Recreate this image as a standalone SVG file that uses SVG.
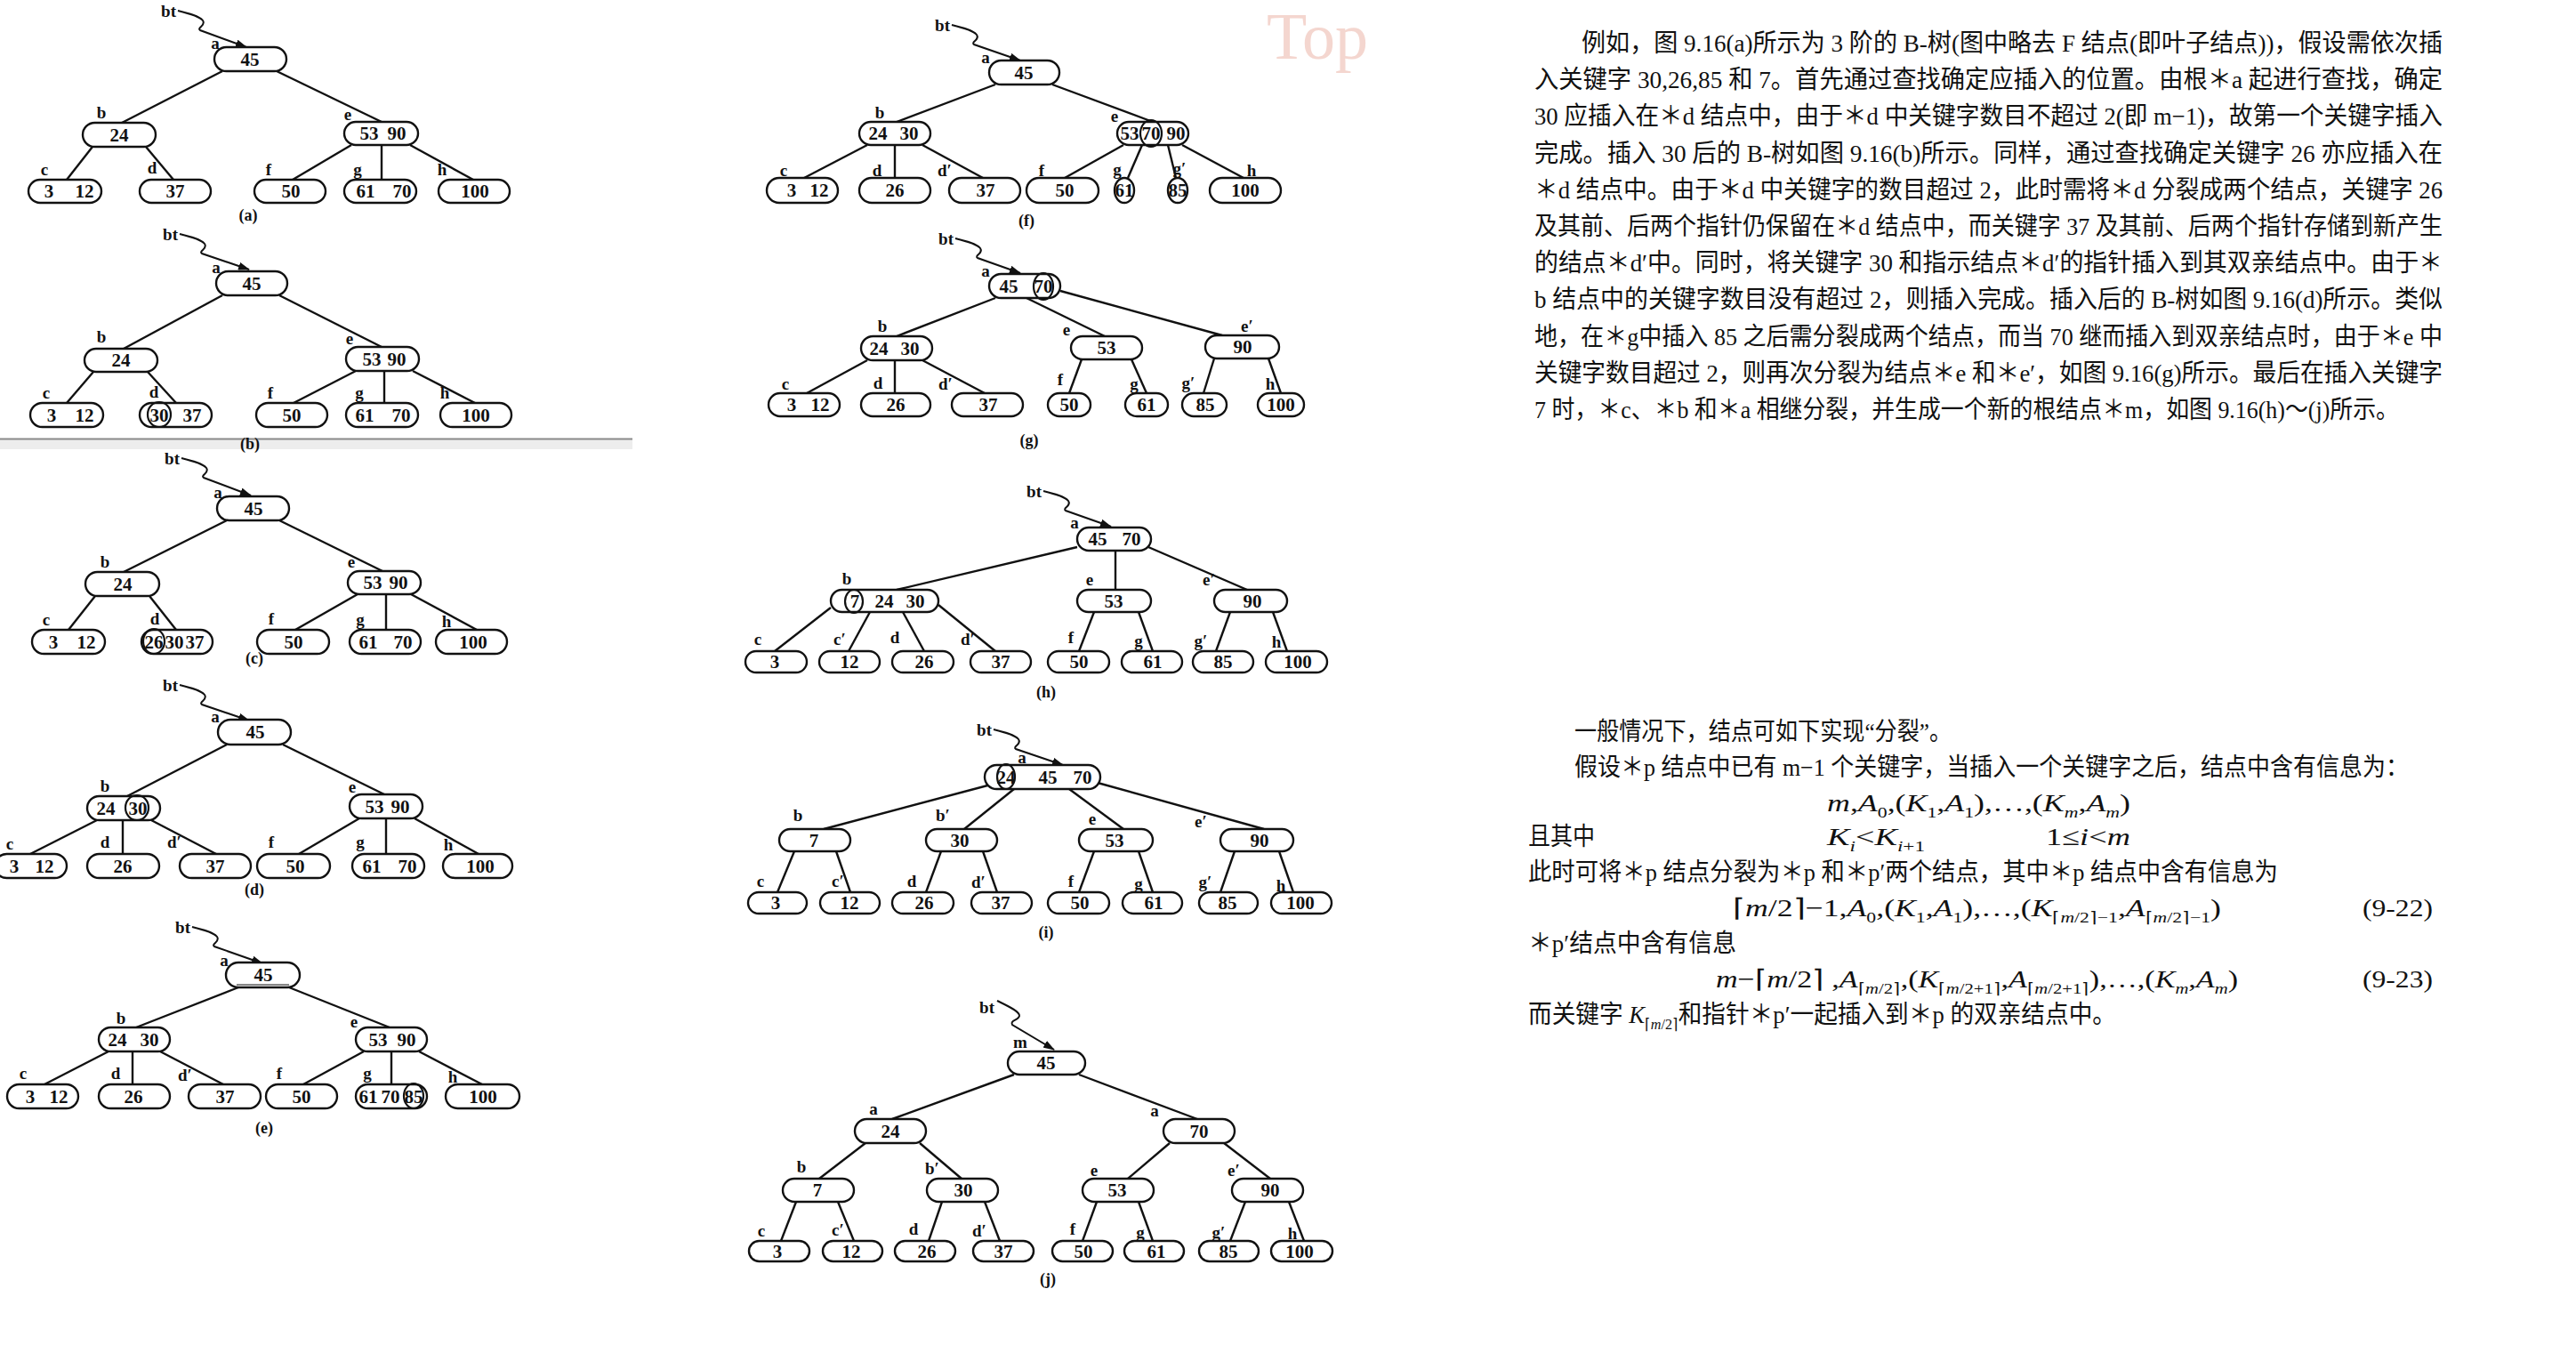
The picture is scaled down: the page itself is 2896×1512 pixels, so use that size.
<svg xmlns="http://www.w3.org/2000/svg" width="2896" height="1512" viewBox="0 0 2896 1512">
<style>
.nd{fill:#fff;stroke:#111;stroke-width:2.4}
.k{font-family:"Liberation Serif",serif;font-weight:bold;font-size:21px;fill:#111;text-anchor:middle}
.lb{font-family:"Liberation Serif",serif;font-weight:bold;font-size:19px;fill:#111;text-anchor:middle}
.bt{font-family:"Liberation Serif",serif;font-weight:bold;font-size:19px;fill:#111;text-anchor:end}
.cap{font-family:"Liberation Serif",serif;font-weight:bold;font-size:18px;fill:#111;text-anchor:middle}
.ed line{stroke:#111;stroke-width:2.4}
.ring{fill:none;stroke:#111;stroke-width:2.2}
.sq{fill:none;stroke:#111;stroke-width:2}
.tx{font-family:"Liberation Serif","Noto Sans CJK SC",serif;font-size:28px;fill:#111}
.it{font-style:italic}
.sb{font-size:17px}
</style>
<defs>
<marker id="ah" markerUnits="userSpaceOnUse" markerWidth="13" markerHeight="9" refX="12" refY="4.5" orient="auto"><path d="M0,0 L13,4.5 L0,9 Z" fill="#111"/></marker>
</defs>
<rect width="2896" height="1512" fill="#fff"/>

<!-- separator -->
<rect x="0" y="494" width="711" height="11" fill="#ededed"/>
<line x1="0" y1="493.5" x2="711" y2="493.5" stroke="#8a8a8a" stroke-width="2"/>

<!-- ===== (a) ===== -->
<g id="tree-a">
<g id="a-connectors" class="ed">
<path class="sq" marker-end="url(#ah)" transform="translate(200,12)" d="M0,0 C12,3 24,6 28,11 C32,17 21,19 25,22 L77,41"/>
<line x1="250" y1="80" x2="137" y2="138"/><line x1="311" y1="80" x2="429" y2="137"/>
<line x1="104" y1="165" x2="75" y2="202"/><line x1="164" y1="165" x2="195" y2="202"/>
<line x1="395" y1="163" x2="329" y2="202"/><line x1="429" y1="163" x2="429" y2="202"/><line x1="461" y1="163" x2="532" y2="202"/>
</g>
<text class="bt" x="198" y="19">bt</text>
<g id="a-a"><rect class="nd" x="241" y="53" width="81" height="27" rx="13.5"/><text class="k" x="281" y="74">45</text><text class="lb" x="242" y="55">a</text></g>
<g id="a-b"><rect class="nd" x="93" y="138" width="82" height="27" rx="13.5"/><text class="k" x="134" y="159">24</text><text class="lb" x="114" y="133">b</text></g>
<g id="a-e"><rect class="nd" x="387" y="137" width="83" height="26" rx="13"/><text class="k" x="415" y="157">53</text><text class="k" x="446" y="157">90</text><text class="lb" x="391" y="135">e</text></g>
<g id="a-c"><rect class="nd" x="32" y="202" width="82" height="26" rx="13"/><text class="k" x="55" y="222">3</text><text class="k" x="95" y="222">12</text><text class="lb" x="50" y="197">c</text></g>
<g id="a-d"><rect class="nd" x="157" y="202" width="80" height="26" rx="13"/><text class="k" x="197" y="222">37</text><text class="lb" x="171" y="195">d</text></g>
<g id="a-f"><rect class="nd" x="286" y="202" width="80" height="26" rx="13"/><text class="k" x="327" y="222">50</text><text class="lb" x="302" y="197">f</text></g>
<g id="a-g"><rect class="nd" x="387" y="202" width="81" height="26" rx="13"/><text class="k" x="411" y="222">61</text><text class="k" x="452" y="222">70</text><text class="lb" x="402" y="197">g</text></g>
<g id="a-h"><rect class="nd" x="493" y="202" width="80" height="26" rx="13"/><text class="k" x="534" y="222">100</text><text class="lb" x="497" y="197">h</text></g>
<text class="cap" x="279" y="248">(a)</text>
</g>

<!-- ===== (b) ===== -->
<g id="tree-b">
<g id="b-connectors" class="ed">
<path class="sq" marker-end="url(#ah)" transform="translate(202,263)" d="M0,0 C12,3 24,6 28,11 C32,17 21,19 25,22 L78,40"/>
<line x1="250" y1="332" x2="139" y2="392"/><line x1="314" y1="332" x2="429" y2="390"/>
<line x1="105" y1="418" x2="75" y2="453"/><line x1="166" y1="418" x2="198" y2="453"/>
<line x1="400" y1="417" x2="330" y2="453"/><line x1="432" y1="417" x2="432" y2="453"/><line x1="464" y1="417" x2="534" y2="453"/>
</g>
<text class="bt" x="200" y="270">bt</text>
<g id="b-a"><rect class="nd" x="243" y="305" width="80" height="27" rx="13.5"/><text class="k" x="283" y="326">45</text><text class="lb" x="243" y="307">a</text></g>
<g id="b-b"><rect class="nd" x="95" y="392" width="82" height="26" rx="13"/><text class="k" x="136" y="412">24</text><text class="lb" x="114" y="385">b</text></g>
<g id="b-e"><rect class="nd" x="389" y="390" width="82" height="27" rx="13.5"/><text class="k" x="418" y="411">53</text><text class="k" x="446" y="411">90</text><text class="lb" x="393" y="387">e</text></g>
<g id="b-c"><rect class="nd" x="34" y="453" width="82" height="27" rx="13.5"/><text class="k" x="58" y="474">3</text><text class="k" x="95" y="474">12</text><text class="lb" x="52" y="448">c</text></g>
<g id="b-d"><rect class="nd" x="157" y="453" width="81" height="27" rx="13.5"/><text class="k" x="179" y="474">30</text><text class="k" x="216" y="474">37</text><ellipse class="ring" cx="179" cy="466" rx="13" ry="14"/><text class="lb" x="173" y="447">d</text></g>
<g id="b-f"><rect class="nd" x="288" y="453" width="80" height="27" rx="13.5"/><text class="k" x="328" y="474">50</text><text class="lb" x="304" y="448">f</text></g>
<g id="b-g"><rect class="nd" x="389" y="453" width="81" height="27" rx="13.5"/><text class="k" x="410" y="474">61</text><text class="k" x="451" y="474">70</text><text class="lb" x="404" y="448">g</text></g>
<g id="b-h"><rect class="nd" x="495" y="453" width="80" height="27" rx="13.5"/><text class="k" x="535" y="474">100</text><text class="lb" x="500" y="448">h</text></g>
<text class="cap" x="281" y="505">(b)</text>
</g>

<!-- ===== (c) ===== -->
<g id="tree-c">
<g id="c-connectors" class="ed">
<path class="sq" marker-end="url(#ah)" transform="translate(204,515)" d="M0,0 C12,3 24,6 28,11 C32,17 21,19 25,22 L78,42"/>
<line x1="255" y1="585" x2="139" y2="643"/><line x1="314" y1="585" x2="430" y2="642"/>
<line x1="107" y1="670" x2="77" y2="708"/><line x1="168" y1="670" x2="198" y2="708"/>
<line x1="402" y1="668" x2="332" y2="708"/><line x1="434" y1="668" x2="434" y2="708"/><line x1="462" y1="668" x2="536" y2="708"/>
</g>
<text class="bt" x="202" y="522">bt</text>
<g id="c-a"><rect class="nd" x="244" y="558" width="81" height="27" rx="13.5"/><text class="k" x="285" y="579">45</text><text class="lb" x="245" y="560">a</text></g>
<g id="c-b"><rect class="nd" x="96" y="643" width="83" height="27" rx="13.5"/><text class="k" x="138" y="664">24</text><text class="lb" x="118" y="638">b</text></g>
<g id="c-e"><rect class="nd" x="391" y="642" width="82" height="26" rx="13"/><text class="k" x="419" y="662">53</text><text class="k" x="448" y="662">90</text><text class="lb" x="395" y="638">e</text></g>
<g id="c-c"><rect class="nd" x="36" y="708" width="82" height="27" rx="13.5"/><text class="k" x="60" y="729">3</text><text class="k" x="97" y="729">12</text><text class="lb" x="52" y="703">c</text></g>
<g id="c-d"><rect class="nd" x="159" y="708" width="80" height="27" rx="13.5"/><text class="k" x="173" y="729">26</text><text class="k" x="196" y="729">30</text><text class="k" x="219" y="729">37</text><ellipse class="ring" cx="173" cy="721" rx="12" ry="14"/><text class="lb" x="174" y="702">d</text></g>
<g id="c-f"><rect class="nd" x="289" y="708" width="81" height="27" rx="13.5"/><text class="k" x="330" y="729">50</text><text class="lb" x="305" y="702">f</text></g>
<g id="c-g"><rect class="nd" x="393" y="708" width="80" height="27" rx="13.5"/><text class="k" x="414" y="729">61</text><text class="k" x="453" y="729">70</text><text class="lb" x="405" y="703">g</text></g>
<g id="c-h"><rect class="nd" x="490" y="708" width="80" height="27" rx="13.5"/><text class="k" x="532" y="729">100</text><text class="lb" x="502" y="705">h</text></g>
<text class="cap" x="286" y="746">(c)</text>
</g>

<!-- ===== (d) ===== -->
<g id="tree-d">
<g id="d-connectors" class="ed">
<path class="sq" marker-end="url(#ah)" transform="translate(202,770)" d="M0,0 C12,3 24,6 28,11 C32,17 21,19 25,22 L78,40"/>
<line x1="255" y1="837" x2="143" y2="895"/><line x1="318" y1="837" x2="432" y2="893"/>
<line x1="109" y1="922" x2="34" y2="960"/><line x1="138" y1="922" x2="138" y2="960"/><line x1="170" y1="922" x2="243" y2="960"/>
<line x1="404" y1="920" x2="336" y2="960"/><line x1="434" y1="920" x2="434" y2="960"/><line x1="466" y1="920" x2="538" y2="960"/>
</g>
<text class="bt" x="200" y="777">bt</text>
<g id="d-a"><rect class="nd" x="245" y="809" width="82" height="28" rx="14"/><text class="k" x="287" y="830">45</text><text class="lb" x="242" y="812">a</text></g>
<g id="d-b"><rect class="nd" x="98" y="895" width="82" height="27" rx="13.5"/><text class="k" x="119" y="916">24</text><text class="k" x="155" y="916">30</text><ellipse class="ring" cx="154" cy="908" rx="13" ry="14"/><text class="lb" x="118" y="890">b</text></g>
<g id="d-e"><rect class="nd" x="393" y="893" width="82" height="27" rx="13.5"/><text class="k" x="421" y="914">53</text><text class="k" x="450" y="914">90</text><text class="lb" x="396" y="891">e</text></g>
<g id="d-c"><rect class="nd" x="-6" y="960" width="81" height="27" rx="13.5"/><text class="k" x="16" y="981">3</text><text class="k" x="50" y="981">12</text><text class="lb" x="11" y="955">c</text></g>
<g id="d-d"><rect class="nd" x="98" y="960" width="81" height="27" rx="13.5"/><text class="k" x="138" y="981">26</text><text class="lb" x="118" y="953">d</text></g>
<g id="d-d2"><rect class="nd" x="202" y="960" width="80" height="27" rx="13.5"/><text class="k" x="242" y="981">37</text><text class="lb" x="196" y="953">d′</text></g>
<g id="d-f"><rect class="nd" x="289" y="960" width="82" height="27" rx="13.5"/><text class="k" x="332" y="981">50</text><text class="lb" x="305" y="953">f</text></g>
<g id="d-g"><rect class="nd" x="396" y="960" width="81" height="27" rx="13.5"/><text class="k" x="418" y="981">61</text><text class="k" x="458" y="981">70</text><text class="lb" x="405" y="953">g</text></g>
<g id="d-h"><rect class="nd" x="498" y="960" width="78" height="27" rx="13.5"/><text class="k" x="540" y="981">100</text><text class="lb" x="504" y="956">h</text></g>
<text class="cap" x="286" y="1006">(d)</text>
</g>

<!-- ===== (e) ===== -->
<g id="tree-e">
<g id="e-connectors" class="ed">
<path class="sq" marker-end="url(#ah)" transform="translate(216,1042)" d="M0,0 C12,3 24,6 28,11 C32,17 21,19 25,22 L79,41"/>
<line x1="268" y1="1110" x2="153" y2="1155"/><line x1="325" y1="1110" x2="438" y2="1155"/>
<line x1="122" y1="1182" x2="50" y2="1219"/><line x1="149" y1="1182" x2="149" y2="1219"/><line x1="180" y1="1182" x2="251" y2="1219"/>
<line x1="409" y1="1182" x2="341" y2="1219"/><line x1="440" y1="1182" x2="440" y2="1219"/><line x1="471" y1="1182" x2="542" y2="1219"/>
</g>
<text class="bt" x="214" y="1049">bt</text>
<g id="e-a"><rect class="nd" x="254" y="1082" width="83" height="28" rx="14"/><line x1="266" y1="1107" x2="325" y2="1107" stroke="#111" stroke-width="1.2"/><text class="k" x="296" y="1103">45</text><text class="lb" x="252" y="1086">a</text></g>
<g id="e-b"><rect class="nd" x="111" y="1155" width="80" height="27" rx="13.5"/><text class="k" x="132" y="1176">24</text><text class="k" x="168" y="1176">30</text><text class="lb" x="136" y="1151">b</text></g>
<g id="e-e"><rect class="nd" x="400" y="1155" width="80" height="27" rx="13.5"/><text class="k" x="425" y="1176">53</text><text class="k" x="457" y="1176">90</text><text class="lb" x="398" y="1155">e</text></g>
<g id="e-c"><rect class="nd" x="8" y="1219" width="80" height="27" rx="13.5"/><text class="k" x="34" y="1240">3</text><text class="k" x="66" y="1240">12</text><text class="lb" x="26" y="1213">c</text></g>
<g id="e-d"><rect class="nd" x="111" y="1219" width="80" height="27" rx="13.5"/><text class="k" x="150" y="1240">26</text><text class="lb" x="130" y="1213">d</text></g>
<g id="e-d2"><rect class="nd" x="212" y="1219" width="81" height="27" rx="13.5"/><text class="k" x="253" y="1240">37</text><text class="lb" x="208" y="1215">d′</text></g>
<g id="e-f"><rect class="nd" x="299" y="1219" width="80" height="27" rx="13.5"/><text class="k" x="339" y="1240">50</text><text class="lb" x="314" y="1213">f</text></g>
<g id="e-g"><rect class="nd" x="400" y="1219" width="80" height="27" rx="13.5"/><text class="k" x="414" y="1240">61</text><text class="k" x="439" y="1240">70</text><text class="k" x="465" y="1240">85</text><ellipse class="ring" cx="465" cy="1232" rx="11" ry="14"/><text class="lb" x="413" y="1213">g</text></g>
<g id="e-h"><rect class="nd" x="501" y="1219" width="83" height="27" rx="13.5"/><text class="k" x="543" y="1240">100</text><text class="lb" x="509" y="1217">h</text></g>
<text class="cap" x="297" y="1274">(e)</text>
</g>

<!-- ===== (f) ===== -->
<g id="tree-f">
<g id="f-connectors" class="ed">
<path class="sq" marker-end="url(#ah)" transform="translate(1070,28)" d="M0,0 C12,3 24,6 28,11 C32,17 21,19 25,22 L77,40"/>
<line x1="1119" y1="95" x2="1008" y2="137"/><line x1="1183" y1="95" x2="1296" y2="137"/>
<line x1="975" y1="163" x2="904" y2="200"/><line x1="1006" y1="163" x2="1006" y2="200"/><line x1="1037" y1="163" x2="1105" y2="200"/>
<line x1="1263" y1="163" x2="1197" y2="200"/><line x1="1284" y1="163" x2="1268" y2="200"/><line x1="1313" y1="163" x2="1322" y2="200"/><line x1="1329" y1="163" x2="1398" y2="200"/>
</g>
<text x="1424" y="66" font-family="Liberation Serif, serif" font-size="74" fill="#f4d6cf">Top</text>
<text class="bt" x="1068" y="35">bt</text>
<g id="f-a"><rect class="nd" x="1112" y="68" width="79" height="27" rx="13.5"/><text class="k" x="1151" y="89">45</text><text class="lb" x="1108" y="71">a</text></g>
<g id="f-b"><rect class="nd" x="966" y="137" width="80" height="26" rx="13"/><text class="k" x="987" y="157">24</text><text class="k" x="1022" y="157">30</text><text class="lb" x="989" y="133">b</text></g>
<g id="f-e"><rect class="nd" x="1256" y="137" width="80" height="26" rx="13"/><text class="k" x="1270" y="157">53</text><text class="k" x="1294" y="157">70</text><text class="k" x="1322" y="157">90</text><ellipse class="ring" cx="1294" cy="150" rx="12" ry="15"/><text class="lb" x="1253" y="137">e</text></g>
<g id="f-c"><rect class="nd" x="862" y="200" width="80" height="28" rx="14"/><text class="k" x="890" y="221">3</text><text class="k" x="921" y="221">12</text><text class="lb" x="881" y="198">c</text></g>
<g id="f-d"><rect class="nd" x="966" y="200" width="80" height="28" rx="14"/><text class="k" x="1006" y="221">26</text><text class="lb" x="986" y="198">d</text></g>
<g id="f-d2"><rect class="nd" x="1067" y="200" width="80" height="28" rx="14"/><text class="k" x="1108" y="221">37</text><text class="lb" x="1062" y="198">d′</text></g>
<g id="f-f"><rect class="nd" x="1154" y="200" width="81" height="28" rx="14"/><text class="k" x="1197" y="221">50</text><text class="lb" x="1171" y="198">f</text></g>
<g id="f-g"><ellipse class="nd" cx="1264" cy="214" rx="11" ry="14"/><text class="k" x="1264" y="221">61</text><text class="lb" x="1256" y="197">g</text></g>
<g id="f-g2"><ellipse class="nd" cx="1324" cy="214" rx="11" ry="14"/><text class="k" x="1324" y="221">85</text><text class="lb" x="1326" y="196">g′</text></g>
<g id="f-h"><rect class="nd" x="1360" y="200" width="80" height="28" rx="14"/><text class="k" x="1400" y="221">100</text><text class="lb" x="1407" y="198">h</text></g>
<text class="cap" x="1154" y="254">(f)</text>
</g>

<!-- ===== (g) ===== -->
<g id="tree-g">
<g id="g-connectors" class="ed">
<path class="sq" marker-end="url(#ah)" transform="translate(1074,268)" d="M0,0 C12,3 24,6 28,11 C32,17 21,19 25,22 L73,39"/>
<line x1="1119" y1="335" x2="1008" y2="378"/><line x1="1154" y1="335" x2="1242" y2="378"/><line x1="1192" y1="327" x2="1374" y2="377"/>
<line x1="975" y1="405" x2="907" y2="442"/><line x1="1006" y1="405" x2="1006" y2="442"/><line x1="1037" y1="405" x2="1107" y2="442"/>
<line x1="1216" y1="404" x2="1202" y2="442"/><line x1="1272" y1="404" x2="1289" y2="442"/>
<line x1="1365" y1="403" x2="1353" y2="442"/><line x1="1426" y1="403" x2="1440" y2="442"/>
</g>
<text class="bt" x="1072" y="275">bt</text>
<g id="g-a"><rect class="nd" x="1112" y="308" width="80" height="27" rx="13.5"/><text class="k" x="1134" y="329">45</text><text class="k" x="1173" y="329">70</text><ellipse class="ring" cx="1173" cy="322" rx="11" ry="15"/><text class="lb" x="1108" y="311">a</text></g>
<g id="g-b"><rect class="nd" x="968" y="378" width="80" height="27" rx="13.5"/><text class="k" x="988" y="399">24</text><text class="k" x="1023" y="399">30</text><text class="lb" x="992" y="373">b</text></g>
<g id="g-e"><rect class="nd" x="1204" y="378" width="80" height="26" rx="13"/><text class="k" x="1244" y="398">53</text><text class="lb" x="1199" y="377">e</text></g>
<g id="g-e2"><rect class="nd" x="1355" y="377" width="83" height="26" rx="13"/><text class="k" x="1397" y="397">90</text><text class="lb" x="1402" y="373">e′</text></g>
<g id="g-c"><rect class="nd" x="864" y="442" width="80" height="26" rx="13"/><text class="k" x="890" y="462">3</text><text class="k" x="922" y="462">12</text><text class="lb" x="883" y="438">c</text></g>
<g id="g-d"><rect class="nd" x="968" y="442" width="78" height="26" rx="13"/><text class="k" x="1007" y="462">26</text><text class="lb" x="987" y="437">d</text></g>
<g id="g-d2"><rect class="nd" x="1070" y="442" width="80" height="26" rx="13"/><text class="k" x="1111" y="462">37</text><text class="lb" x="1063" y="438">d′</text></g>
<g id="g-f"><rect class="nd" x="1178" y="442" width="48" height="26" rx="13"/><text class="k" x="1202" y="462">50</text><text class="lb" x="1192" y="433">f</text></g>
<g id="g-g"><rect class="nd" x="1265" y="442" width="48" height="26" rx="13"/><text class="k" x="1289" y="462">61</text><text class="lb" x="1275" y="438">g</text></g>
<g id="g-g2"><rect class="nd" x="1329" y="442" width="50" height="26" rx="13"/><text class="k" x="1355" y="462">85</text><text class="lb" x="1336" y="437">g′</text></g>
<g id="g-h"><rect class="nd" x="1414" y="442" width="52" height="26" rx="13"/><text class="k" x="1440" y="462">100</text><text class="lb" x="1428" y="438">h</text></g>
<text class="cap" x="1157" y="501">(g)</text>
</g>

<!-- ===== (h) ===== -->
<g id="tree-h">
<g id="h-connectors" class="ed">
<path class="sq" marker-end="url(#ah)" transform="translate(1173,552)" d="M0,0 C12,3 24,6 28,11 C32,17 21,19 25,22 L76,40"/>
<line x1="1211" y1="615" x2="1008" y2="663"/><line x1="1254" y1="619" x2="1254" y2="663"/><line x1="1291" y1="615" x2="1402" y2="663"/>
<line x1="934" y1="683" x2="871" y2="732"/><line x1="978" y1="688" x2="954" y2="732"/><line x1="1015" y1="688" x2="1039" y2="732"/><line x1="1055" y1="680" x2="1119" y2="732"/>
<line x1="1230" y1="688" x2="1213" y2="732"/><line x1="1280" y1="688" x2="1296" y2="732"/>
<line x1="1383" y1="688" x2="1367" y2="732"/><line x1="1431" y1="688" x2="1447" y2="732"/>
</g>
<text class="bt" x="1171" y="559">bt</text>
<g id="h-a"><rect class="nd" x="1211" y="593" width="83" height="26" rx="13"/><text class="k" x="1234" y="613">45</text><text class="k" x="1272" y="613">70</text><text class="lb" x="1208" y="594">a</text></g>
<g id="h-b"><rect class="nd" x="934" y="663" width="121" height="25" rx="12.5"/><text class="k" x="961" y="683">7</text><text class="k" x="994" y="683">24</text><text class="k" x="1029" y="683">30</text><ellipse class="ring" cx="960" cy="676" rx="10" ry="13"/><text class="lb" x="952" y="657">b</text></g>
<g id="h-e"><rect class="nd" x="1211" y="663" width="83" height="25" rx="12.5"/><text class="k" x="1252" y="683">53</text><text class="lb" x="1225" y="658">e</text></g>
<g id="h-e2"><rect class="nd" x="1365" y="663" width="82" height="25" rx="12.5"/><text class="k" x="1408" y="683">90</text><text class="lb" x="1359" y="658">e′</text></g>
<g id="h-c"><rect class="nd" x="838" y="732" width="69" height="24" rx="12"/><text class="k" x="871" y="751">3</text><text class="lb" x="852" y="725">c</text></g>
<g id="h-c2"><rect class="nd" x="921" y="732" width="68" height="24" rx="12"/><text class="k" x="955" y="751">12</text><text class="lb" x="944" y="725">c′</text></g>
<g id="h-d"><rect class="nd" x="1003" y="732" width="69" height="24" rx="12"/><text class="k" x="1039" y="751">26</text><text class="lb" x="1006" y="723">d</text></g>
<g id="h-d2"><rect class="nd" x="1091" y="732" width="68" height="24" rx="12"/><text class="k" x="1125" y="751">37</text><text class="lb" x="1088" y="725">d′</text></g>
<g id="h-f"><rect class="nd" x="1178" y="732" width="69" height="24" rx="12"/><text class="k" x="1213" y="751">50</text><text class="lb" x="1204" y="723">f</text></g>
<g id="h-g"><rect class="nd" x="1261" y="732" width="68" height="24" rx="12"/><text class="k" x="1296" y="751">61</text><text class="lb" x="1280" y="727">g</text></g>
<g id="h-g2"><rect class="nd" x="1341" y="732" width="68" height="24" rx="12"/><text class="k" x="1375" y="751">85</text><text class="lb" x="1350" y="727">g′</text></g>
<g id="h-h"><rect class="nd" x="1423" y="732" width="69" height="24" rx="12"/><text class="k" x="1459" y="751">100</text><text class="lb" x="1435" y="728">h</text></g>
<text class="cap" x="1176" y="784">(h)</text>
</g>

<!-- ===== (i) ===== -->
<g id="tree-i">
<g id="i-connectors" class="ed">
<path class="sq" marker-end="url(#ah)" transform="translate(1117,820)" d="M0,0 C12,3 24,6 28,11 C32,17 21,19 25,22 L78,40"/>
<line x1="1114" y1="882" x2="926" y2="932"/><line x1="1140" y1="887" x2="1084" y2="932"/><line x1="1202" y1="887" x2="1263" y2="932"/><line x1="1234" y1="880" x2="1421" y2="932"/>
<line x1="893" y1="957" x2="874" y2="1003"/><line x1="940" y1="957" x2="956" y2="1003"/>
<line x1="1058" y1="957" x2="1041" y2="1003"/><line x1="1105" y1="957" x2="1121" y2="1003"/>
<line x1="1230" y1="957" x2="1213" y2="1003"/><line x1="1280" y1="957" x2="1296" y2="1003"/>
<line x1="1388" y1="957" x2="1372" y2="1003"/><line x1="1438" y1="957" x2="1454" y2="1003"/>
</g>
<text class="bt" x="1115" y="827">bt</text>
<g id="i-a"><rect class="nd" x="1107" y="860" width="130" height="27" rx="13.5"/><text class="k" x="1131" y="881">24</text><text class="k" x="1178" y="881">45</text><text class="k" x="1217" y="881">70</text><ellipse class="ring" cx="1131" cy="873" rx="10" ry="14"/><text class="lb" x="1149" y="858">a</text></g>
<g id="i-b"><rect class="nd" x="876" y="932" width="80" height="25" rx="12.5"/><text class="k" x="915" y="952">7</text><text class="lb" x="897" y="923">b</text></g>
<g id="i-b2"><rect class="nd" x="1041" y="932" width="80" height="25" rx="12.5"/><text class="k" x="1079" y="952">30</text><text class="lb" x="1060" y="923">b′</text></g>
<g id="i-e"><rect class="nd" x="1213" y="932" width="83" height="25" rx="12.5"/><text class="k" x="1253" y="952">53</text><text class="lb" x="1228" y="927">e</text></g>
<g id="i-e2"><rect class="nd" x="1372" y="932" width="82" height="25" rx="12.5"/><text class="k" x="1416" y="952">90</text><text class="lb" x="1350" y="930">e′</text></g>
<g id="i-c"><rect class="nd" x="841" y="1003" width="66" height="24" rx="12"/><text class="k" x="872" y="1022">3</text><text class="lb" x="855" y="997">c</text></g>
<g id="i-c2"><rect class="nd" x="922" y="1003" width="67" height="24" rx="12"/><text class="k" x="955" y="1022">12</text><text class="lb" x="942" y="997">c′</text></g>
<g id="i-d"><rect class="nd" x="1003" y="1003" width="69" height="24" rx="12"/><text class="k" x="1039" y="1022">26</text><text class="lb" x="1025" y="997">d</text></g>
<g id="i-d2"><rect class="nd" x="1092" y="1003" width="68" height="24" rx="12"/><text class="k" x="1125" y="1022">37</text><text class="lb" x="1100" y="998">d′</text></g>
<g id="i-f"><rect class="nd" x="1178" y="1003" width="69" height="24" rx="12"/><text class="k" x="1214" y="1022">50</text><text class="lb" x="1204" y="997">f</text></g>
<g id="i-g"><rect class="nd" x="1262" y="1003" width="67" height="24" rx="12"/><text class="k" x="1297" y="1022">61</text><text class="lb" x="1280" y="1000">g</text></g>
<g id="i-g2"><rect class="nd" x="1348" y="1003" width="66" height="24" rx="12"/><text class="k" x="1380" y="1022">85</text><text class="lb" x="1355" y="998">g′</text></g>
<g id="i-h"><rect class="nd" x="1429" y="1003" width="68" height="24" rx="12"/><text class="k" x="1462" y="1022">100</text><text class="lb" x="1440" y="1002">h</text></g>
<text class="cap" x="1176" y="1054">(i)</text>
</g>

<!-- ===== (j) ===== -->
<g id="tree-j">
<g id="j-connectors" class="ed">
<path class="sq" marker-end="url(#ah)" transform="translate(1121,1125)" d="M0,0 C10,5 26,12 25,17 C24,22 14,22 17,27 L64,55"/>
<line x1="1140" y1="1208" x2="1003" y2="1258"/><line x1="1213" y1="1208" x2="1346" y2="1258"/>
<line x1="973" y1="1285" x2="921" y2="1325"/><line x1="1034" y1="1285" x2="1081" y2="1325"/>
<line x1="1315" y1="1285" x2="1268" y2="1325"/><line x1="1376" y1="1285" x2="1428" y2="1325"/>
<line x1="895" y1="1351" x2="878" y2="1395"/><line x1="942" y1="1351" x2="960" y2="1395"/>
<line x1="1059" y1="1351" x2="1044" y2="1395"/><line x1="1107" y1="1351" x2="1124" y2="1395"/>
<line x1="1233" y1="1351" x2="1217" y2="1395"/><line x1="1280" y1="1351" x2="1296" y2="1395"/>
<line x1="1400" y1="1351" x2="1383" y2="1395"/><line x1="1449" y1="1351" x2="1466" y2="1395"/>
</g>
<text class="bt" x="1118" y="1139">bt</text>
<g id="j-m"><rect class="nd" x="1133" y="1182" width="87" height="26" rx="13"/><text class="k" x="1176" y="1202">45</text><text class="lb" x="1147" y="1178">m</text></g>
<g id="j-a"><rect class="nd" x="961" y="1258" width="80" height="27" rx="13.5"/><text class="k" x="1001" y="1279">24</text><text class="lb" x="982" y="1253">a</text></g>
<g id="j-a2"><rect class="nd" x="1308" y="1258" width="80" height="27" rx="13.5"/><text class="k" x="1348" y="1279">70</text><text class="lb" x="1298" y="1255">a</text></g>
<g id="j-b"><rect class="nd" x="880" y="1325" width="80" height="26" rx="13"/><text class="k" x="919" y="1345">7</text><text class="lb" x="901" y="1318">b</text></g>
<g id="j-b2"><rect class="nd" x="1042" y="1325" width="80" height="26" rx="13"/><text class="k" x="1083" y="1345">30</text><text class="lb" x="1048" y="1320">b′</text></g>
<g id="j-e"><rect class="nd" x="1217" y="1325" width="80" height="26" rx="13"/><text class="k" x="1256" y="1345">53</text><text class="lb" x="1230" y="1322">e</text></g>
<g id="j-e2"><rect class="nd" x="1385" y="1325" width="80" height="26" rx="13"/><text class="k" x="1428" y="1345">90</text><text class="lb" x="1387" y="1322">e′</text></g>
<g id="j-c"><rect class="nd" x="842" y="1395" width="68" height="23" rx="11.5"/><text class="k" x="874" y="1414">3</text><text class="lb" x="856" y="1390">c</text></g>
<g id="j-c2"><rect class="nd" x="925" y="1395" width="67" height="23" rx="11.5"/><text class="k" x="957" y="1414">12</text><text class="lb" x="942" y="1389">c′</text></g>
<g id="j-d"><rect class="nd" x="1006" y="1395" width="68" height="23" rx="11.5"/><text class="k" x="1042" y="1414">26</text><text class="lb" x="1027" y="1388">d</text></g>
<g id="j-d2"><rect class="nd" x="1094" y="1395" width="68" height="23" rx="11.5"/><text class="k" x="1128" y="1414">37</text><text class="lb" x="1101" y="1390">d′</text></g>
<g id="j-f"><rect class="nd" x="1183" y="1395" width="68" height="23" rx="11.5"/><text class="k" x="1218" y="1414">50</text><text class="lb" x="1206" y="1388">f</text></g>
<g id="j-g"><rect class="nd" x="1264" y="1395" width="67" height="23" rx="11.5"/><text class="k" x="1300" y="1414">61</text><text class="lb" x="1282" y="1392">g</text></g>
<g id="j-g2"><rect class="nd" x="1348" y="1395" width="67" height="23" rx="11.5"/><text class="k" x="1381" y="1414">85</text><text class="lb" x="1370" y="1392">g′</text></g>
<g id="j-h"><rect class="nd" x="1429" y="1395" width="69" height="23" rx="11.5"/><text class="k" x="1461" y="1414">100</text><text class="lb" x="1453" y="1393">h</text></g>
<text class="cap" x="1178" y="1444">(j)</text>
</g>

<!-- ===== paragraph 1 ===== -->
<g id="para1" class="tx">
<text x="1778" y="58" textLength="968" lengthAdjust="spacingAndGlyphs">例如，图 9.16(a)所示为 3 阶的 B-树(图中略去 F 结点(即叶子结点))，假设需依次插</text>
<text x="1725" y="99" textLength="1021" lengthAdjust="spacingAndGlyphs">入关键字 30,26,85 和 7。首先通过查找确定应插入的位置。由根＊a 起进行查找，确定</text>
<text x="1725" y="140" textLength="1021" lengthAdjust="spacingAndGlyphs">30 应插入在＊d 结点中，由于＊d 中关键字数目不超过 2(即 m−1)，故第一个关键字插入</text>
<text x="1725" y="182" textLength="1021" lengthAdjust="spacingAndGlyphs">完成。插入 30 后的 B-树如图 9.16(b)所示。同样，通过查找确定关键字 26 亦应插入在</text>
<text x="1725" y="223" textLength="1021" lengthAdjust="spacingAndGlyphs">＊d 结点中。由于＊d 中关键字的数目超过 2，此时需将＊d 分裂成两个结点，关键字 26</text>
<text x="1725" y="264" textLength="1021" lengthAdjust="spacingAndGlyphs">及其前、后两个指针仍保留在＊d 结点中，而关键字 37 及其前、后两个指针存储到新产生</text>
<text x="1725" y="305" textLength="1021" lengthAdjust="spacingAndGlyphs">的结点＊d′中。同时，将关键字 30 和指示结点＊d′的指针插入到其双亲结点中。由于＊</text>
<text x="1725" y="346" textLength="1021" lengthAdjust="spacingAndGlyphs">b 结点中的关键字数目没有超过 2，则插入完成。插入后的 B-树如图 9.16(d)所示。类似</text>
<text x="1725" y="388" textLength="1021" lengthAdjust="spacingAndGlyphs">地，在＊g中插入 85 之后需分裂成两个结点，而当 70 继而插入到双亲结点时，由于＊e 中</text>
<text x="1725" y="429" textLength="1021" lengthAdjust="spacingAndGlyphs">关键字数目超过 2，则再次分裂为结点＊e 和＊e′，如图 9.16(g)所示。最后在插入关键字</text>
<text x="1725" y="470" textLength="972" lengthAdjust="spacingAndGlyphs">7 时，＊c、＊b 和＊a 相继分裂，并生成一个新的根结点＊m，如图 9.16(h)～(j)所示。</text>
</g>

<!-- ===== paragraph 2 ===== -->
<g id="para2" class="tx">
<text x="1770" y="832" textLength="424" lengthAdjust="spacingAndGlyphs">一般情况下，结点可如下实现“分裂”。</text>
<text x="1770" y="872" textLength="938" lengthAdjust="spacingAndGlyphs">假设＊p 结点中已有 m−1 个关键字，当插入一个关键字之后，结点中含有信息为：</text>
<text x="2054" y="912" textLength="341" lengthAdjust="spacingAndGlyphs"><tspan class="it">m</tspan>,<tspan class="it">A</tspan><tspan class="sb" dy="7">0</tspan><tspan dy="-7">,(</tspan><tspan class="it">K</tspan><tspan class="sb" dy="7">1</tspan><tspan dy="-7">,</tspan><tspan class="it">A</tspan><tspan class="sb" dy="7">1</tspan><tspan dy="-7">),…,(</tspan><tspan class="it">K</tspan><tspan class="sb it" dy="7">m</tspan><tspan dy="-7">,</tspan><tspan class="it">A</tspan><tspan class="sb it" dy="7">m</tspan><tspan dy="-7">)</tspan></text>
<text x="1718" y="950" textLength="75" lengthAdjust="spacingAndGlyphs">且其中</text>
<text x="2054" y="950" textLength="110" lengthAdjust="spacingAndGlyphs"><tspan class="it">K</tspan><tspan class="sb it" dy="7">i</tspan><tspan dy="-7">&lt;</tspan><tspan class="it">K</tspan><tspan class="sb" dy="7"><tspan class="it">i</tspan>+1</tspan></text>
<text x="2300" y="950" textLength="95" lengthAdjust="spacingAndGlyphs">1≤<tspan class="it">i</tspan>&lt;<tspan class="it">m</tspan></text>
<text x="1718" y="990" textLength="843" lengthAdjust="spacingAndGlyphs">此时可将＊p 结点分裂为＊p 和＊p′两个结点，其中＊p 结点中含有信息为</text>
<text x="1948" y="1030" textLength="549" lengthAdjust="spacingAndGlyphs">⌈<tspan class="it">m</tspan>/2⌉−1,<tspan class="it">A</tspan><tspan class="sb" dy="7">0</tspan><tspan dy="-7">,(</tspan><tspan class="it">K</tspan><tspan class="sb" dy="7">1</tspan><tspan dy="-7">,</tspan><tspan class="it">A</tspan><tspan class="sb" dy="7">1</tspan><tspan dy="-7">),…,(</tspan><tspan class="it">K</tspan><tspan class="sb" dy="7">⌈<tspan class="it">m</tspan>/2⌉−1</tspan><tspan dy="-7">,</tspan><tspan class="it">A</tspan><tspan class="sb" dy="7">⌈<tspan class="it">m</tspan>/2⌉−1</tspan><tspan dy="-7">)</tspan></text>
<text x="2656" y="1030" textLength="79" lengthAdjust="spacingAndGlyphs">(9-22)</text>
<text x="1718" y="1070" textLength="234" lengthAdjust="spacingAndGlyphs">＊p′结点中含有信息</text>
<text x="1929" y="1110" textLength="587" lengthAdjust="spacingAndGlyphs"><tspan class="it">m</tspan>−⌈<tspan class="it">m</tspan>/2⌉ ,<tspan class="it">A</tspan><tspan class="sb" dy="7">⌈<tspan class="it">m</tspan>/2⌉</tspan><tspan dy="-7">,(</tspan><tspan class="it">K</tspan><tspan class="sb" dy="7">⌈<tspan class="it">m</tspan>/2+1⌉</tspan><tspan dy="-7">,</tspan><tspan class="it">A</tspan><tspan class="sb" dy="7">⌈<tspan class="it">m</tspan>/2+1⌉</tspan><tspan dy="-7">),…,(</tspan><tspan class="it">K</tspan><tspan class="sb it" dy="7">m</tspan><tspan dy="-7">,</tspan><tspan class="it">A</tspan><tspan class="sb it" dy="7">m</tspan><tspan dy="-7">)</tspan></text>
<text x="2656" y="1110" textLength="79" lengthAdjust="spacingAndGlyphs">(9-23)</text>
<text x="1718" y="1150" textLength="661" lengthAdjust="spacingAndGlyphs">而关键字 <tspan class="it">K</tspan><tspan class="sb" dy="7">⌈<tspan class="it">m</tspan>/2⌉</tspan><tspan dy="-7">和指针＊p′一起插入到＊p 的双亲结点中。</tspan></text>
</g>
</svg>
